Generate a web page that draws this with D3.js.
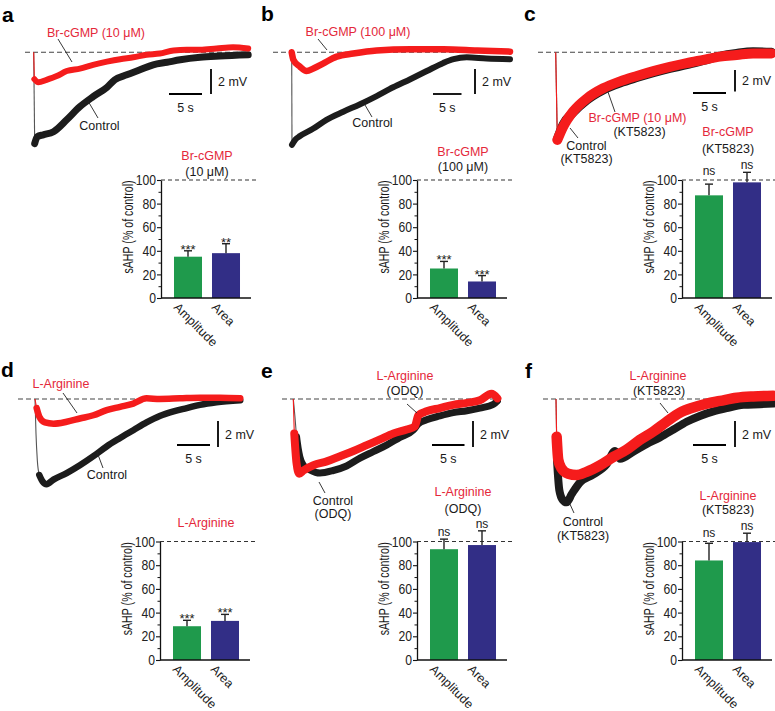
<!DOCTYPE html>
<html><head><meta charset="utf-8">
<script src="https://cdn.jsdelivr.net/npm/d3@7"></script>
<style>body{margin:0;background:#fff}svg{display:block}</style>
</head><body>
<script>
// ---------------- DATA ----------------
const barCategories = ["Amplitude", "Area"];
const yTickValues = [0, 20, 40, 60, 80, 100];
const yMinorTicks = [10, 30, 50, 70, 90];

const meansA = [35, 38],   errA = [5, 8],     sigA = ["***", "**"];
const meansB = [25, 14],   errB = [6, 5],     sigB = ["***", "***"];
const meansC = [87, 98],   errC = [9.5, 8.5], sigC = ["ns", "ns"];
const meansD = [28.5, 33], errD = [5, 5.5],   sigD = ["***", "***"];
const meansE = [93.5, 97], errE = [8.5, 12],  sigE = ["ns", "ns"];
const meansF = [84, 99.5], errF = [14.5, 7.5],sigF = ["ns", "ns"];

const titlesA = ["Br-cGMP", "(10 μM)"];
const titlesB = ["Br-cGMP", "(100 μM)"];
const titlesC = ["Br-cGMP", "(KT5823)"];
const titlesD = ["L-Arginine"];
const titlesE = ["L-Arginine", "(ODQ)"];
const titlesF = ["L-Arginine", "(KT5823)"];

// traces: [time (s), membrane potential relative to baseline (mV)]
const traceAControl = [[0,0],[0.15,-7.3],[0.55,-6.75],[1.45,-6.6],[3.0,-6.35],[5.0,-5.4],[7.0,-4.35],[9.0,-3.55],[11.1,-2.8],[12.3,-2.2],[14.1,-1.8],[16.1,-1.4],[18.1,-1.0],[20.2,-0.8],[22.2,-0.6],[25.2,-0.4],[28.2,-0.3],[32.5,-0.2]];
const traceADrug = [[0,0],[0.1,-2.15],[0.7,-2.4],[1.95,-2.2],[3.5,-1.9],[5.0,-1.5],[7.0,-1.3],[9.0,-1.0],[11.1,-0.75],[13.1,-0.55],[15.1,-0.4],[17.1,-0.2],[19.1,-0.1],[21.2,0.15],[23.2,0.2],[25.2,0.2],[27.7,0.3],[30.2,0.4],[32.5,0.3]];
const traceBControl = [[0,0],[0.05,-7.4],[0.6,-7.0],[1.45,-6.7],[3.8,-6.1],[6.1,-5.4],[9.05,-4.75],[12.0,-4.15],[14.9,-3.5],[17.8,-2.8],[20.8,-2.15],[23.7,-1.5],[26.6,-0.85],[28.4,-0.55],[30.7,-0.4],[34.2,-0.5],[38.3,-0.55]];
const traceBDrug = [[0,0],[0.3,-0.6],[1.45,-1.15],[2.6,-1.5],[3.8,-1.3],[5.5,-0.9],[7.9,-0.35],[10.8,-0.1],[14.9,0.15],[20.8,0.25],[26.6,0.25],[32.5,0.15],[38.3,0.05]];
const traceCControl = [[0,0],[0.25,-8.1],[1.15,-6.7],[2.65,-5.6],[4.7,-4.45],[7.2,-3.5],[9.75,-2.85],[12.3,-2.35],[14.8,-1.9],[17.3,-1.5],[19.85,-1.15],[22.4,-0.75],[24.9,-0.35],[27.4,-0.1],[29.9,0.05],[32.7,0.0]];
const traceCDrug = [[0,0],[0.25,-8.15],[1.15,-6.9],[2.65,-5.5],[4.7,-4.3],[7.2,-3.35],[9.75,-2.7],[12.3,-2.2],[14.8,-1.75],[17.3,-1.35],[19.85,-1.0],[22.4,-0.7],[24.9,-0.4],[27.4,-0.25],[29.9,-0.1],[32.7,-0.1]];
const traceDControl = [[0,0],[0.15,-2.65],[0.35,-4.7],[0.65,-5.85],[1.15,-6.35],[1.75,-6.55],[2.8,-6.2],[4.8,-5.7],[6.8,-5.1],[8.85,-4.4],[10.85,-3.65],[12.9,-3.0],[14.9,-2.4],[16.9,-1.8],[18.9,-1.3],[21.0,-0.95],[23.0,-0.7],[25.0,-0.45],[27.5,-0.25],[31.1,-0.1]];
const traceDDrug = [[0,0],[0.25,-0.7],[0.65,-1.35],[1.5,-1.8],[2.8,-1.9],[4.8,-1.75],[6.8,-1.5],[8.85,-1.25],[10.85,-0.85],[12.9,-0.6],[14.9,-0.35],[16.9,0.05],[18.9,0.0],[21.95,0.05],[25.0,0.1],[28.0,0.1],[31.1,0.05]];
const traceEControl = [[0,0],[0.25,-1.35],[0.5,-2.9],[0.75,-3.8],[1.0,-4.45],[1.55,-5.1],[2.55,-5.45],[4.1,-5.7],[6.15,-5.5],[8.2,-5.15],[10.25,-4.55],[12.3,-4.05],[14.35,-3.55],[16.4,-2.95],[18.45,-2.4],[19.25,-1.9],[20.5,-1.6],[22.55,-1.3],[24.6,-1.05],[26.7,-0.9],[28.7,-0.7],[30.8,-0.4],[31.4,-0.15]];
const traceEDrug = [[0,0],[0.15,-2.65],[0.5,-4.95],[0.9,-5.75],[1.55,-5.5],[3.1,-5.1],[5.15,-4.8],[7.2,-4.4],[9.25,-4.0],[11.3,-3.55],[13.35,-3.1],[15.4,-2.65],[17.45,-2.35],[18.7,-2.1],[19.25,-1.25],[20.5,-0.95],[22.55,-0.7],[24.6,-0.45],[26.7,-0.3],[28.7,-0.1],[30.5,0.4],[31.4,0.05]];
const traceFControl = [[0,0],[0.15,-4.7],[0.5,-7.0],[1.0,-7.75],[1.6,-7.95],[2.4,-7.3],[3.65,-6.4],[5.65,-5.8],[7.7,-5.0],[8.95,-4.0],[9.7,-4.6],[11.7,-4.05],[13.75,-3.45],[15.75,-2.95],[17.8,-2.35],[19.8,-1.75],[21.8,-1.3],[23.85,-0.95],[25.85,-0.7],[28.4,-0.45],[30.9,-0.4],[32.9,-0.35]];
const traceFDrug = [[0,0],[0.1,-2.9],[0.35,-4.7],[0.85,-5.35],[1.85,-5.75],[3.1,-5.85],[4.65,-5.6],[6.65,-5.1],[8.7,-4.45],[10.7,-3.9],[12.7,-3.15],[14.75,-2.5],[16.75,-1.75],[18.8,-1.05],[20.8,-0.65],[22.85,-0.35],[24.85,-0.15],[27.4,0.1],[29.9,0.2],[32.9,0.25]];

const scaleBarSec = 5, scaleBarMV = 2;

// ---------------- STYLE / LAYOUT ----------------
const FONT = "'Liberation Sans', Arial, Helvetica, sans-serif";
const RED_TXT = "#e4283a", RED_TR = "#f51c1c", BLACK_TR = "#1c1c1c";
const GREEN = "#1f9a4c", BLUE = "#322e86";

const svg = d3.select("body").append("svg").attr("width", 775).attr("height", 711)
  .style("font-family", FONT);

function text(x, y, s, o = {}) {
  return svg.append("text").attr("x", x).attr("y", y).text(s)
    .attr("font-size", o.size || 12.5).attr("fill", o.fill || "#1a1a1a")
    .attr("text-anchor", o.anchor || "middle").attr("font-weight", o.weight || "normal");
}
function seg(x1, y1, x2, y2, w = 0.9, c = "#222") {
  svg.append("line").attr("x1", x1).attr("y1", y1).attr("x2", x2).attr("y2", y2)
    .attr("stroke", c).attr("stroke-width", w);
}

// panel letters
[["a",2,22],["b",261,21],["c",524,21],["d",1,377],["e",261,378],["f",525,378]].forEach(([l,x,y]) =>
  text(x, y, l, {size: 21, weight: "bold", anchor: "start", fill: "#000"}));

// ---------------- TRACES ----------------
function drawTrace(p, ctl, drug) {
  const x = d3.scaleLinear().domain([0, 1]).range([p.x0, p.x0 + p.pps]);
  const y = d3.scaleLinear().domain([0, -1]).range([p.base, p.base + p.ppm]);
  const line = d3.line().x(d => x(d[0])).y(d => y(d[1])).curve(d3.curveMonotoneX);
  const g = svg.append("g");
  g.append("line").attr("x1", p.dash[0]).attr("x2", p.dash[1]).attr("y1", y(0)).attr("y2", y(0))
    .attr("stroke", "#444").attr("stroke-width", 1.1).attr("stroke-dasharray", "5,3");
  [[ctl, BLACK_TR, p.ctlW, p.ctlK, "#555"], [drug, RED_TR, p.redW, p.redK, RED_TR]].forEach(([d, c, w, k, thinC]) => {
    g.append("path").attr("d", line(d.slice(0, k + 1))).attr("fill", "none")
      .attr("stroke", thinC).attr("stroke-width", 1.1);
    g.append("path").attr("d", line(d.slice(k))).attr("fill", "none")
      .attr("stroke", c).attr("stroke-width", w)
      .attr("stroke-linejoin", "round").attr("stroke-linecap", "round");
  });
  const hx = p.hbar[0], hy = p.hbar[1];
  const hl = x(scaleBarSec) - x(0);
  seg(hx, hy, hx + hl, hy, 1.8, "#000");
  text(hx + hl / 2, hy + 18, "5 s");
  const vx = p.vbar[0], vy = p.vbar[1];
  const vl = y(-scaleBarMV) - y(0);
  seg(vx, vy, vx, vy + vl, 1.8, "#000");
  text(vx + 7, vy + vl / 2 + 4.5, "2 mV", {anchor: "start"});
}

drawTrace({x0:33.7, base:52.3, pps:6.6, ppm:12.5, dash:[25,248], hbar:[169,94], vbar:[211,69], ctlW:7, redW:6, ctlK:1, redK:1}, traceAControl, traceADrug);
drawTrace({x0:291.7, base:52.3, pps:5.7, ppm:12.5, dash:[273,513], hbar:[433,94], vbar:[475,69], ctlW:6, redW:6.5, ctlK:1, redK:0}, traceBControl, traceBDrug);
drawTrace({x0:555.7, base:52.3, pps:6.6, ppm:10.75, dash:[538,773], hbar:[693,93], vbar:[735,70], ctlW:9, redW:10, ctlK:1, redK:1}, traceCControl, traceCDrug);
drawTrace({x0:35, base:399, pps:6.6, ppm:13, dash:[18,242], hbar:[177,445], vbar:[218,421], ctlW:6.5, redW:6.5, ctlK:3, redK:1}, traceDControl, traceDDrug);
drawTrace({x0:293.3, base:399, pps:6.5, ppm:13, dash:[282,498], hbar:[432,445], vbar:[473,421], ctlW:7, redW:8, ctlK:2, redK:1}, traceEControl, traceEDrug);
drawTrace({x0:556, base:399, pps:6.6, ppm:13, dash:[543,773], hbar:[693,445], vbar:[735,421], ctlW:8, redW:10.5, ctlK:1, redK:1}, traceFControl, traceFDrug);

// trace annotations
text(96, 37, "Br-cGMP (10 μM)", {fill: RED_TXT}); seg(58, 39, 72, 62);
text(99.5, 130, "Control"); seg(88, 101, 98, 118);
text(358, 36, "Br-cGMP (100 μM)", {fill: RED_TXT}); seg(318, 39, 327, 50);
text(372.5, 127, "Control"); seg(365, 105, 372, 117);
text(637.5, 122, "Br-cGMP (10 μM)", {fill: RED_TXT}); text(639.5, 136, "(KT5823)"); seg(615, 112, 608, 92);
text(586.5, 150, "Control"); text(586.5, 163, "(KT5823)"); seg(578, 138, 570, 128);
text(61, 388, "L-Arginine", {fill: RED_TXT}); seg(63, 393, 77, 413);
text(107, 479, "Control"); seg(97, 452, 103, 468);
text(405, 380, "L-Arginine", {fill: RED_TXT}); text(405, 395, "(ODQ)"); seg(407, 404, 417, 413);
text(333, 505, "Control"); text(333, 518, "(ODQ)"); seg(319, 482, 325, 493);
text(658, 380, "L-Arginine", {fill: RED_TXT}); text(659, 395, "(KT5823)"); seg(660, 403, 668, 413);
text(583, 526, "Control"); text(583, 540, "(KT5823)"); seg(569, 502, 574, 513);

// ---------------- BAR CHARTS ----------------
function drawBars(cfg, means, errs, sigs, titles) {
  const g = svg.append("g");
  const y = d3.scaleLinear().domain([0, 100]).range([cfg.y0, cfg.y100]);
  const x = d3.scaleBand().domain(barCategories).range([cfg.axis, cfg.axis + 92])
    .paddingInner(0.263).paddingOuter(0.342);
  const colors = [GREEN, BLUE];
  g.append("line").attr("x1", cfg.axis).attr("x2", cfg.axis + 97).attr("y1", y(100)).attr("y2", y(100))
    .attr("stroke", "#333").attr("stroke-width", 1.1).attr("stroke-dasharray", "4,3");
  g.selectAll("rect.bar").data(means).join("rect")
    .attr("x", (d, i) => x(barCategories[i])).attr("width", x.bandwidth())
    .attr("y", d => y(d)).attr("height", d => y(0) - y(d))
    .attr("fill", (d, i) => colors[i]);
  means.forEach((m, i) => {
    const cx = x(barCategories[i]) + x.bandwidth() / 2;
    const top = y(m + errs[i]);
    g.append("line").attr("x1", cx).attr("x2", cx).attr("y1", y(m)).attr("y2", top)
      .attr("stroke", "#222").attr("stroke-width", 1.4);
    g.append("line").attr("x1", cx - 4).attr("x2", cx + 4).attr("y1", top).attr("y2", top)
      .attr("stroke", "#222").attr("stroke-width", 1.4);
    const isNs = sigs[i] === "ns";
    g.append("text").attr("x", cx).attr("y", isNs ? Math.min(top - 3, y(100) - 5) : top + 3)
      .attr("text-anchor", "middle").attr("font-size", isNs ? 12 : 13)
      .attr("fill", "#1a1a1a").text(sigs[i]);
  });
  const ax = d3.axisLeft(y).tickValues(yTickValues).tickSize(4).tickSizeOuter(0).tickPadding(2);
  const ag = g.append("g").attr("transform", `translate(${cfg.axis},0)`).call(ax);
  ag.select(".domain").attr("stroke", "#111").attr("stroke-width", 1.3);
  ag.selectAll(".tick line").attr("stroke", "#111").attr("stroke-width", 1.1);
  ag.selectAll(".tick text").attr("font-size", 14.5).attr("font-family", FONT).attr("fill", "#222")
    .attr("transform", "scale(0.84,1)");
  const mg = g.append("g").attr("transform", `translate(${cfg.axis},0)`)
    .call(d3.axisLeft(y).tickValues(yMinorTicks).tickSize(2.5).tickFormat(""));
  mg.select(".domain").remove();
  mg.selectAll(".tick line").attr("stroke", "#111").attr("stroke-width", 1);
  g.append("line").attr("x1", cfg.axis).attr("x2", cfg.axis + 90).attr("y1", y(0)).attr("y2", y(0))
    .attr("stroke", "#111").attr("stroke-width", 1.4);
  barCategories.forEach((c, i) => {
    g.append("text").attr("transform", `translate(${x(c) - 1},${y(0) + 10}) rotate(45)`)
      .attr("font-size", 12.5).attr("fill", "#1a1a1a").text(c);
  });
  g.append("text").attr("transform", `translate(${cfg.axis - 28},${(y(0) + y(100)) / 2 - 12}) rotate(-90) scale(0.76,1)`)
    .attr("text-anchor", "middle").attr("font-size", 14).attr("fill", "#1a1a1a")
    .text("sAHP (% of control)");
  titles.forEach((t, i) => {
    g.append("text").attr("x", cfg.axis + 46).attr("y", cfg.titleY[i]).attr("text-anchor", "middle")
      .attr("font-size", 12.5).attr("fill", i === 0 ? RED_TXT : "#1a1a1a").text(t);
  });
}

drawBars({axis:161, y100:180, y0:298, titleY:[160,176]}, meansA, errA, sigA, titlesA);
drawBars({axis:417, y100:180, y0:298, titleY:[156,171]}, meansB, errB, sigB, titlesB);
drawBars({axis:682, y100:180, y0:298, titleY:[136,153]}, meansC, errC, sigC, titlesC);
drawBars({axis:160, y100:541.5, y0:660, titleY:[527]}, meansD, errD, sigD, titlesD);
drawBars({axis:417, y100:541.5, y0:660, titleY:[496,512.5]}, meansE, errE, sigE, titlesE);
drawBars({axis:682, y100:541.5, y0:660, titleY:[499.5,514]}, meansF, errF, sigF, titlesF);
</script>
</body></html>
